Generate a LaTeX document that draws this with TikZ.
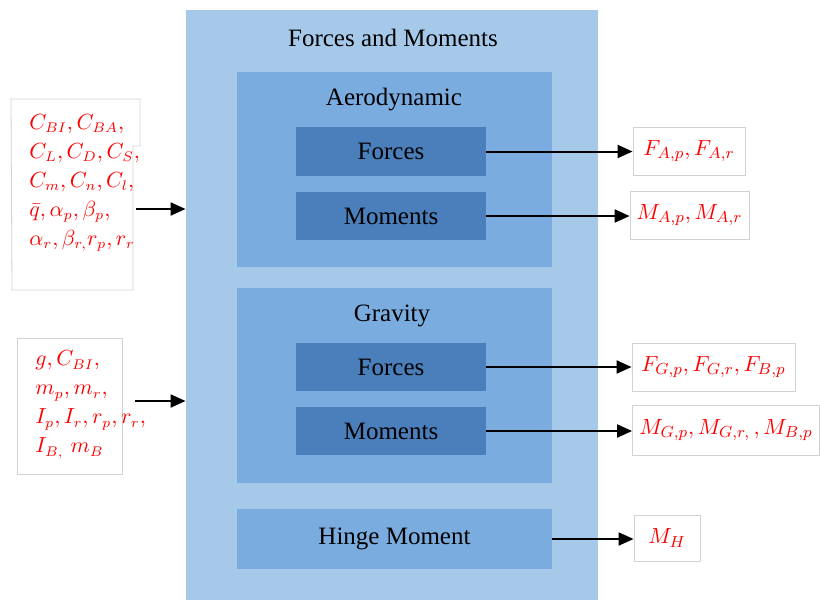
\documentclass[tikz,border=0pt]{standalone}
\usepackage{fontspec}
\setmainfont{Liberation Serif}
\usetikzlibrary{arrows.meta}

\definecolor{hellblau}{RGB}{166,201,234}
\definecolor{mittelblau}{RGB}{122,172,223}
\definecolor{dunkelblau}{RGB}{74,127,187}
\definecolor{rahmen}{RGB}{210,210,210}

\tikzset{
  block/.style={fill=#1, inner sep=0pt, font=\fontsize{12.5}{15}\selectfont},
  titel/.style={inner sep=0pt, font=\fontsize{12.5}{15}\selectfont},
  eingabe/.style={text=red, align=left, inner sep=0pt, font=\fontsize{10.5}{14.5}\selectfont},
  ausgabe/.style={draw=rahmen, fill=white, text=red, inner sep=0pt, font=\fontsize{11}{13}\selectfont},
  pfeil/.style={-{Triangle[length=7.5pt,width=6.5pt]}, line width=1pt},
}

\begin{document}
\begin{tikzpicture}[x=0.5pt,y=-0.5pt]
  \useasboundingbox (0,0) rectangle (820,601);

  % Hauptblock
  \node[block=hellblau, minimum width=206pt, minimum height=295pt] (fm) at (392,305) {};
  \node[titel] (fmtitel) at (393,38) {Forces and Moments};

  % Aerodynamik
  \node[block=mittelblau, minimum width=157.5pt, minimum height=97.5pt] (aero) at (394.5,169.5) {};
  \node[titel] (aerotitel) at (394,100) {Aerodynamic};
  \node[block=dunkelblau, minimum width=95pt, minimum height=24.5pt] (fa) at (391,151.5) {Forces};
  \node[block=dunkelblau, minimum width=95pt, minimum height=24pt] (ma) at (391,216) {Moments};

  % Gravitation
  \node[block=mittelblau, minimum width=157.5pt, minimum height=97.5pt] (grav) at (394.5,385.5) {};
  \node[titel] (gravtitel) at (392,316) {Gravity};
  \node[block=dunkelblau, minimum width=95pt, minimum height=24pt] (fg) at (391,367) {Forces};
  \node[block=dunkelblau, minimum width=95pt, minimum height=24pt] (mg) at (391,431) {Moments};

  % Gelenkmoment
  \node[block=mittelblau, minimum width=157.5pt, minimum height=30pt] (hm) at (394.5,539) {Hinge Moment};

  % Eingaben
  \draw[draw=rahmen, fill=white] (11,99) -- (140,99) -- (140,146) -- (133,146) -- (133,290) -- (12,290) -- cycle;
  \node[eingabe, anchor=west, text width=53pt] (in1) at (29,183)
    {$C_{BI}, C_{BA},$\\ $C_L, C_D, C_S,$\\ $C_m, C_n, C_l,$\\ $\bar{q}, \alpha_p, \beta_p,$\\ $\alpha_r, \beta_{r,} r_p, r_r$};
  \node[draw=rahmen, fill=white, minimum width=52.5pt, minimum height=68pt] (in2box) at (69.5,406) {};
  \node[eingabe, anchor=west, text width=49.5pt] (in2) at (35,405)
    {$g, C_{BI},$\\ $m_p, m_r,$\\ $I_p, I_r, r_p, r_r,$\\ $I_{B,}\ m_B$};

  % Ausgaben
  \node[ausgabe, minimum width=56pt, minimum height=24pt] (ofa) at (689,151) {$F_{A,p}, F_{A,r}$};
  \node[ausgabe, minimum width=59.5pt, minimum height=24pt] (oma) at (689.5,215) {$M_{A,p}, M_{A,r}$};
  \node[ausgabe, minimum width=81.5pt, minimum height=24pt] (ofg) at (713.5,367) {$F_{G,p}, F_{G,r}, F_{B,p}$};
  \node[ausgabe, minimum width=93.5pt, minimum height=25pt] (omg) at (726,430) {$M_{G,p}, M_{G,r,}\,, M_{B,p}$};
  \node[ausgabe, minimum width=33pt, minimum height=23pt] (ohm) at (667,538) {$M_H$};

  % Pfeile
  \draw[pfeil] ([yshift=-13pt]in1.east) -- ([yshift=-13pt]in1.east -| fm.west);
  \draw[pfeil] ([yshift=2pt]in2.east) -- ([yshift=2pt]in2.east -| fm.west);
  \draw[pfeil] (fa.east) -- (fa.east -| ofa.west);
  \draw[pfeil] (ma.east) -- (ma.east -| oma.west);
  \draw[pfeil] (fg.east) -- (fg.east -| ofg.west);
  \draw[pfeil] (mg.east) -- (mg.east -| omg.west);
  \draw[pfeil] (hm.east) -- (hm.east -| ohm.west);
\end{tikzpicture}
\end{document}
